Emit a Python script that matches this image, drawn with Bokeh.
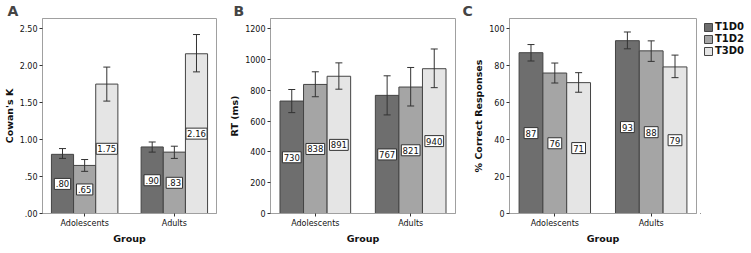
from bokeh.plotting import figure
from bokeh.layouts import row
from bokeh.models import (ColumnDataSource, Range1d, FixedTicker, Whisker, TeeHead,
                          Legend, LegendItem)
from bokeh.core.properties import value
from bokeh.embed import file_html
from bokeh.resources import INLINE

# ---------------- data ----------------
groups = ["Adolescents", "Adults"]
group_pos = [1, 2]
series = ["T1D0", "T1D2", "T3D0"]

# Panel A: Cowan's K
a_t1d0 = [0.80, 0.90]
a_t1d2 = [0.65, 0.83]
a_t3d0 = [1.75, 2.16]
a_t1d0_lo = [0.745, 0.83]
a_t1d0_hi = [0.878, 0.967]
a_t1d2_lo = [0.57, 0.745]
a_t1d2_hi = [0.73, 0.91]
a_t3d0_lo = [1.52, 1.915]
a_t3d0_hi = [1.98, 2.42]
a_labels = [[".80", ".90"], [".65", ".83"], ["1.75", "2.16"]]
a_ticks = [0, 0.5, 1, 1.5, 2, 2.5]
a_tick_labels = [".00", ".50", "1.00", "1.50", "2.00", "2.50"]

# Panel B: RT (ms)
b_t1d0 = [730, 767]
b_t1d2 = [838, 821]
b_t3d0 = [891, 940]
b_t1d0_lo = [655, 640]
b_t1d0_hi = [805, 894]
b_t1d2_lo = [758, 698]
b_t1d2_hi = [920, 948]
b_t3d0_lo = [807, 817]
b_t3d0_hi = [978, 1068]
b_labels = [["730", "767"], ["838", "821"], ["891", "940"]]
b_ticks = [0, 200, 400, 600, 800, 1000, 1200]
b_tick_labels = ["0", "200", "400", "600", "800", "1000", "1200"]

# Panel C: % Correct Responses
c_t1d0 = [87, 93.5]
c_t1d2 = [76, 88]
c_t3d0 = [70.8, 79.3]
c_t1d0_lo = [82.5, 89.1]
c_t1d0_hi = [91.4, 98.2]
c_t1d2_lo = [70.6, 82.3]
c_t1d2_hi = [81.4, 93.4]
c_t3d0_lo = [65.6, 73.5]
c_t3d0_hi = [76.2, 85.7]
c_labels = [["87", "93"], ["76", "88"], ["71", "79"]]
c_ticks = [0, 20, 40, 60, 80, 100]
c_tick_labels = ["0", "20", "40", "60", "80", "100"]

# ---------------- style ----------------
series_colors = ["#6e6e6e", "#a5a5a5", "#e5e5e5"]
series_offset = [-0.247, 0.0, 0.247]
bar_width = 0.247
FONT = "DejaVu Sans"
FRAME = "#a0a0a0"
DARK = "#333333"
FRAME_H = 195


def style_title(p, letter, mb_left):
    p.title.text = letter
    p.title.text_font = FONT
    p.title.text_font_size = "14px"
    p.title.text_font_style = "bold"
    p.title.offset = -mb_left + 1
    p.title.standoff = 0


def box_width(txt):
    return 4 + sum(2.5 if ch == "." else 4.9 for ch in txt)


def make_panel(letter, ylabel, vals, los, his, labels, ymax, ticks, tick_labels,
               frame_w, mb_left, mb_right):
    p = figure(frame_width=frame_w, frame_height=FRAME_H, output_backend="svg",
               toolbar_location=None,
               x_range=Range1d(0.53, 2.47), y_range=Range1d(0, ymax),
               min_border_left=mb_left, min_border_right=mb_right,
               min_border_top=14, min_border_bottom=10)
    style_title(p, letter, mb_left)
    for i, s in enumerate(series):
        xs = [g + series_offset[i] for g in group_pos]
        src = ColumnDataSource(dict(x=xs, top=vals[i], lo=los[i], hi=his[i],
                                    mid=[v / 2 for v in vals[i]], txt=labels[i],
                                    bw=[box_width(t) for t in labels[i]]))
        p.vbar(x="x", top="top", width=bar_width, source=src,
               fill_color=series_colors[i], line_color="#444444", line_width=1)
        w = Whisker(source=src, base="x", upper="hi", lower="lo", line_color=DARK,
                    line_width=1,
                    upper_head=TeeHead(size=7, line_color=DARK, line_width=1),
                    lower_head=TeeHead(size=7, line_color=DARK, line_width=1))
        w.level = "overlay"
        p.add_layout(w)
        p.rect(x="x", y="mid", width="bw", height=11, width_units="screen",
               height_units="screen", source=src, fill_color="white",
               line_color=DARK, line_width=1)
        p.text(x="x", y="mid", text="txt", source=src, text_align="center",
               text_baseline="middle", text_font=value(FONT), text_font_size="8.5px",
               text_color="#111111")

    p.xaxis.ticker = FixedTicker(ticks=group_pos)
    p.xaxis.major_label_overrides = {g: n for g, n in zip(group_pos, groups)}
    p.xaxis.axis_label = "Group"
    p.yaxis.ticker = FixedTicker(ticks=ticks)
    p.yaxis.major_label_overrides = {t: l for t, l in zip(ticks, tick_labels)}
    p.yaxis.axis_label = ylabel

    for ax in p.axis:
        ax.axis_line_color = FRAME
        ax.major_tick_line_color = DARK
        ax.major_tick_out = 3
        ax.major_tick_in = 0
        ax.minor_tick_line_color = None
        ax.major_label_text_font = FONT
        ax.major_label_text_font_size = "8px"
        ax.major_label_text_color = "#111111"
        ax.major_label_standoff = 2
        ax.axis_label_text_font = FONT
        ax.axis_label_text_font_size = "9.5px"
        ax.axis_label_text_font_style = "bold"
        ax.axis_label_text_color = "#111111"
        ax.axis_label_standoff = 2
    p.xgrid.visible = False
    p.ygrid.visible = False
    p.outline_line_color = FRAME
    p.outline_line_width = 1
    return p


def make_legend_panel(frame_w):
    # a bare panel that only carries the series legend (keys drawn off-view)
    p = figure(frame_width=frame_w, frame_height=FRAME_H, output_backend="svg",
               toolbar_location=None, x_range=Range1d(0, 1), y_range=Range1d(0, 1),
               min_border_left=0, min_border_right=0, min_border_top=14,
               min_border_bottom=10)
    style_title(p, " ", 0)
    p.axis.visible = False
    p.xgrid.visible = False
    p.ygrid.visible = False
    p.outline_line_color = None
    items = []
    for s, c in zip(series, series_colors):
        r = p.vbar(x=[-5], top=[0], width=0.5, fill_color=c, line_color="#444444",
                   line_width=1)
        items.append(LegendItem(label=s, renderers=[r]))
    lg = Legend(items=items, location="top_left", margin=3, padding=0,
                spacing=1, glyph_width=10, glyph_height=10, label_height=10,
                label_standoff=2, label_text_font=FONT, label_text_font_size="10px",
                label_text_font_style="bold", label_text_color="#111111",
                border_line_alpha=0, background_fill_alpha=0)
    p.add_layout(lg)
    return p


pA = make_panel("A", "Cowan's K", [a_t1d0, a_t1d2, a_t3d0],
                [a_t1d0_lo, a_t1d2_lo, a_t3d0_lo], [a_t1d0_hi, a_t1d2_hi, a_t3d0_hi],
                a_labels, 2.637, a_ticks, a_tick_labels, 174, 36, 10)
pB = make_panel("B", "RT (ms)", [b_t1d0, b_t1d2, b_t3d0],
                [b_t1d0_lo, b_t1d2_lo, b_t3d0_lo], [b_t1d0_hi, b_t1d2_hi, b_t3d0_hi],
                b_labels, 1266, b_ticks, b_tick_labels, 185, 38, 6)
pC = make_panel("C", "% Correct Responses", [c_t1d0, c_t1d2, c_t3d0],
                [c_t1d0_lo, c_t1d2_lo, c_t3d0_lo], [c_t1d0_hi, c_t1d2_hi, c_t3d0_hi],
                c_labels, 105.5, c_ticks, c_tick_labels, 187, 48, 4)
pL = make_legend_panel(44)

layout = row(pA, pB, pC, pL)
open("out.html", "w").write(file_html(layout, INLINE))
